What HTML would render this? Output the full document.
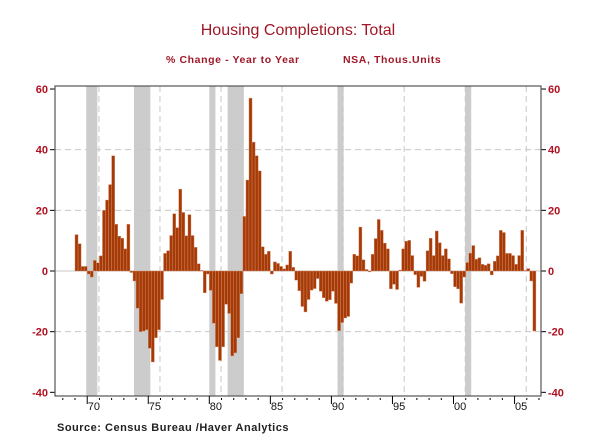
<!DOCTYPE html>
<html><head><meta charset="utf-8"><style>
body{margin:0;background:#fff;}
svg{display:block;font-family:"Liberation Sans",Arial,sans-serif;}
</style></head><body>
<svg id="chart" width="600" height="443" viewBox="0 0 600 443">
<text x="298" y="35" text-anchor="middle" font-size="16" fill="#a01828">Housing Completions: Total</text>
<text x="166" y="63" font-size="10.5" font-weight="bold" fill="#a01828" letter-spacing="0.6">% Change - Year to Year</text>
<text x="343" y="63" font-size="10.5" font-weight="bold" fill="#a01828" letter-spacing="0.6">NSA, Thous.Units</text>
<text x="57" y="431" font-size="11" font-weight="bold" fill="#222" letter-spacing="0.5">Source:  Census Bureau /Haver Analytics</text>
<g id="plot"></g>
</svg>
<script>
const startYear = 1969;
const values = [12,9,1.5,1.5,-1,-2,3.5,2.7,5,20,23.4,28.5,38,15.4,11.5,10.8,7.3,15.4,-0.5,-3.3,-12.3,-20,-19.8,-19.4,-25.5,-30,-22,-19.4,-9.4,5.8,6.7,11.7,18.9,14.3,27,19.3,11.6,18.6,11.7,7.8,2.4,0.2,-7.2,-1,-6.4,-17.2,
-25,-29.5,-25,-11,-14,-28,-27,-22,-7.5,18,30,57,42.5,38,33,8,5.5,6.5,-1,3,2.5,1.5,0.7,2,6.5,1.2,-3,-6.5,-11.7,-13.5,-9.4,-6.3,-5.8,-2.5,-6.7,-8.8,-10,-9.5,-6.7,-10.7,-19.7,-17,-15.5,-15,-4,5.5,5,14.5,3.7,0.5,-0.3,5.5,10.7,17,
13.4,9.2,7.3,-5.9,-4.4,-6.1,0.3,7.3,9.8,10.1,5.1,-1.2,-5.4,-1.8,-3.4,6.7,10.8,5.1,13.2,9.3,5.1,7.3,4,-0.9,-5.2,-5.9,-10.6,-2,2.8,5.9,8.4,3.9,4.4,2.2,1.9,2.4,-1.3,3.2,5,13.4,12.7,5.8,5.8,5.1,2.2,5.1,13.4,0.2,0.8,-3.3,-19.8];
const recessionStarts = [1969.92,1973.83,1980.0,1981.5,1990.5,2000.95];
const recessionEnds = [1970.83,1975.17,1980.5,1982.83,1991.0,2001.45];
const yTicks = [60,40,20,0,-20,-40];
const xLabels = ["70","75","80","85","90","95","00","05"];
const xLabelYears = [1970,1975,1980,1985,1990,1995,2000,2005];

const L=55,R=541,T=86,B=396;
const X=y=>75+(y-startYear)*12.21;
const Y=v=>271-v*3.033;
const ns="http://www.w3.org/2000/svg";
const g=document.getElementById('plot');
function mk(t,a){const e=document.createElementNS(ns,t);for(const k in a)e.setAttribute(k,a[k]);g.appendChild(e);return e;}

for(let i=0;i<recessionStarts.length;i++){
  const r=mk('rect',{x:X(recessionStarts[i]),y:T,width:X(recessionEnds[i])-X(recessionStarts[i]),height:B-T,fill:'#cccccc'});
  
  
}
for(let yr=1971;yr<=2006;yr+=5){
  const l=mk('line',{x1:X(yr)-0.5,x2:X(yr)-0.5,y1:T,y2:B,stroke:'#c8c8c8','stroke-width':1,'stroke-dasharray':'6,4'});
  
  
}
yTicks.forEach(v=>{
  if(v!==60&&v!==-40){
    const l=mk('line',{x1:L,x2:R,y1:Y(v),y2:Y(v),stroke:v===0?'#c8c8c8':'#c8c8c8','stroke-width':1,'stroke-dasharray':v===0?'':'6,4'});
    
    
  }
  mk('line',{x1:L-5,x2:L,y1:Y(v),y2:Y(v),stroke:'#000'});
  mk('line',{x1:R,x2:R+5,y1:Y(v),y2:Y(v),stroke:'#000'});
  const t1=mk('text',{x:L-7,y:Y(v)+4,'text-anchor':'end','font-size':11,'font-weight':'bold',fill:'#b01020'});
  t1.textContent=v;
  
  
  const t2=mk('text',{x:R+7,y:Y(v)+4,'font-size':11,'font-weight':'bold',fill:'#b01020'});
  t2.textContent=v;
  
  
});
const bw=12.21/4;
values.forEach((v,i)=>{
  const x=X(startYear+i/4);
  const b=mk('rect',{x:x,y:Math.min(Y(v),Y(0)),width:bw,height:Math.abs(Y(v)-Y(0)),fill:'#a63a06',stroke:'#d89070','stroke-width':0.4});
  
  
});
mk('rect',{x:L,y:T,width:R-L,height:B-T,fill:'none',stroke:'#555','stroke-width':1.2});
for(let yr=1968;yr<=2007;yr++){
  const x=X(yr);
  if(x<L||x>R)continue;
  const major=xLabelYears.includes(yr);
  mk('line',{x1:x,x2:x,y1:major?B+8:B+2,y2:B+4+(major?-4:0),stroke:'#000'});
}
xLabels.forEach((s,i)=>{
  const t=mk('text',{x:X(xLabelYears[i])+0.5,y:410,'font-size':11,fill:'#111'});
  t.textContent=s;
  
  
});
</script>
</body></html>
